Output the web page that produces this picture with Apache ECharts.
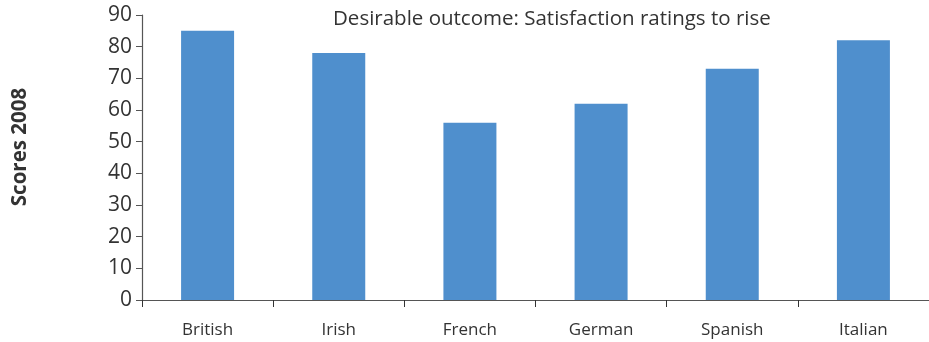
<!DOCTYPE html>
<html>
<head>
<meta charset="utf-8">
<script src="https://cdn.jsdelivr.net/npm/echarts@6/dist/echarts.min.js"></script>
<style>
  html, body { margin: 0; padding: 0; background: #fff; }
  #chart { width: 929px; height: 342px; }
</style>
</head>
<body>
<div id="chart"></div>
<script>
// Satisfaction scores by nationality, 2008
const categories = ['British', 'Irish', 'French', 'German', 'Spanish', 'Italian'];
const scores = [85, 78, 56, 62, 73, 82];
const yTicks = { min: 0, max: 90, interval: 10 };

const FONT = '"Open Sans", "Noto Sans", sans-serif';
const chart = echarts.init(document.getElementById('chart'));

chart.setOption({
  animation: false,
  textStyle: { fontFamily: FONT },
  grid: { left: 142, right: 0, top: 15, bottom: 42, containLabel: false },
  graphic: [
    {
      type: 'text',
      left: 333,
      top: 9,
      style: {
        text: 'Desirable outcome: Satisfaction ratings to rise',
        fontFamily: FONT, fontSize: 20.5, fill: '#333'
      }
    },
    {
      type: 'text',
      x: 20, y: 147,
      rotation: Math.PI / 2,
      style: {
        text: 'Scores 2008',
        fontFamily: FONT, fontSize: 20.5, fontWeight: 'bold', fill: '#333',
        align: 'center', verticalAlign: 'middle'
      }
    }
  ],
  xAxis: {
    type: 'category',
    data: categories,
    axisLine: { lineStyle: { color: '#555', width: 1.2 } },
    axisTick: { show: true, length: 7, alignWithLabel: false, lineStyle: { color: '#333' } },
    axisLabel: { color: '#333', fontSize: 17, margin: 22, fontFamily: FONT },
    splitLine: { show: false }
  },
  yAxis: {
    type: 'value',
    min: yTicks.min, max: yTicks.max, interval: yTicks.interval,
    axisLine: { show: true, lineStyle: { color: '#555', width: 1.2 } },
    axisTick: { show: true, length: 6, lineStyle: { color: '#555' } },
    axisLabel: { color: '#333', fontSize: 21, margin: 10, fontFamily: FONT },
    splitLine: { show: false }
  },
  series: [{
    type: 'bar',
    data: scores,
    barWidth: 53,
    itemStyle: { color: '#4f8fcd' }
  }]
});
</script>
</body>
</html>
